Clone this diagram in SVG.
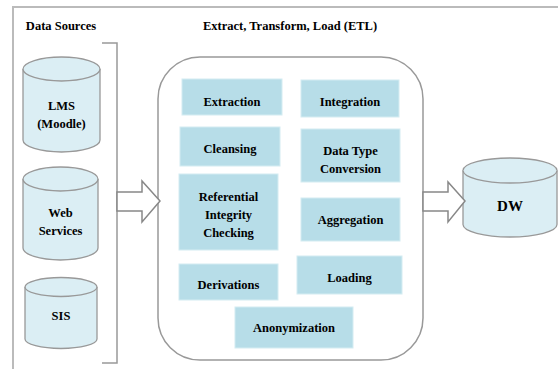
<svg xmlns="http://www.w3.org/2000/svg" width="558" height="369" viewBox="0 0 558 369">
<style>
.t{font-family:'Liberation Serif','DejaVu Serif','Times New Roman',serif;font-weight:bold;font-size:12.5px;fill:#000;text-anchor:middle}
.cyl{fill:#dbeef4;stroke:#999;stroke-width:1.3}
.box{fill:#b7dde8;stroke:#d4ecf2;stroke-width:1}
.arrow{fill:#fff;stroke:#888;stroke-width:1.5}
.frame{stroke:#bbb;stroke-width:2;fill:none}
</style>
<path class="frame" d="M13,369 V7 H558"/>
<text class="t" x="61" y="30">Data Sources</text>
<text class="t" x="290" y="30">Extract, Transform, Load (ETL)</text>
<g id="lms">
<path class="cyl" d="M23,69 V140 A38.5,12 0 0 0 100,140 V69 A38.5,12 0 0 0 23,69 Z"/>
<path class="cyl" fill="none" d="M23,69 A38.5,12 0 0 0 100,69"/>
<text class="t" x="61.5" y="110">LMS</text>
<text class="t" x="61.5" y="128">(Moodle)</text>
</g>
<g id="web">
<path class="cyl" d="M23,179 V248 A37.5,12 0 0 0 98,248 V179 A37.5,12 0 0 0 23,179 Z"/>
<path class="cyl" fill="none" d="M23,179 A37.5,12 0 0 0 98,179"/>
<text class="t" x="60.5" y="217">Web</text>
<text class="t" x="60.5" y="235">Services</text>
</g>
<g id="sis">
<path class="cyl" d="M25,287 V339 A36,9.5 0 0 0 97,339 V287 A36,9.5 0 0 0 25,287 Z"/>
<path class="cyl" fill="none" d="M25,287 A36,9.5 0 0 0 97,287"/>
<text class="t" x="61" y="320">SIS</text>
</g>
<g id="bracket">
<path d="M102,43 H117 V363 H102" fill="none" stroke="#999" stroke-width="1.5"/>
</g>
<g id="etl">
<rect x="158" y="57" width="265" height="303" rx="42" ry="42" fill="#fff" stroke="#999" stroke-width="1.5"/>
</g>
<g id="extraction"><rect class="box" x="182" y="79" width="100" height="36"/><text class="t" x="232" y="106">Extraction</text></g>
<g id="integration"><rect class="box" x="301" y="80" width="98" height="37"/><text class="t" x="350" y="106">Integration</text></g>
<g id="cleansing"><rect class="box" x="180" y="127" width="100" height="39"/><text class="t" x="230" y="153">Cleansing</text></g>
<g id="datatype"><rect class="box" x="301" y="129" width="99" height="53"/><text class="t" x="350.5" y="155">Data Type</text><text class="t" x="350.5" y="173">Conversion</text></g>
<g id="referential"><rect class="box" x="179" y="174" width="99" height="76"/><text class="t" x="228.5" y="201">Referential</text><text class="t" x="228.5" y="219">Integrity</text><text class="t" x="228.5" y="237">Checking</text></g>
<g id="aggregation"><rect class="box" x="301" y="198" width="99" height="43"/><text class="t" x="350.5" y="224">Aggregation</text></g>
<g id="derivations"><rect class="box" x="179" y="264" width="99" height="36"/><text class="t" x="228.5" y="289">Derivations</text></g>
<g id="loading"><rect class="box" x="297" y="256" width="105" height="38"/><text class="t" x="349.5" y="282">Loading</text></g>
<g id="anonymization"><rect class="box" x="235" y="307" width="118" height="41"/><text class="t" x="294" y="332">Anonymization</text></g>
<g id="dw">
<path class="cyl" d="M463,170.5 V224.5 A47,12.5 0 0 0 557,224.5 V170.5 A47,12.5 0 0 0 463,170.5 Z"/>
<path class="cyl" fill="none" d="M463,170.5 A47,12.5 0 0 0 557,170.5"/>
<text class="t" x="510" y="211" style="font-size:15px">DW</text>
</g>
<g id="connectors">
<polygon class="arrow" points="117,192 142,192 142,181 160,201 142,222 142,211 117,211"/>
<polygon class="arrow" points="423,192 448,192 448,182 465,201 448,222 448,211 423,211"/>
</g>
</svg>
